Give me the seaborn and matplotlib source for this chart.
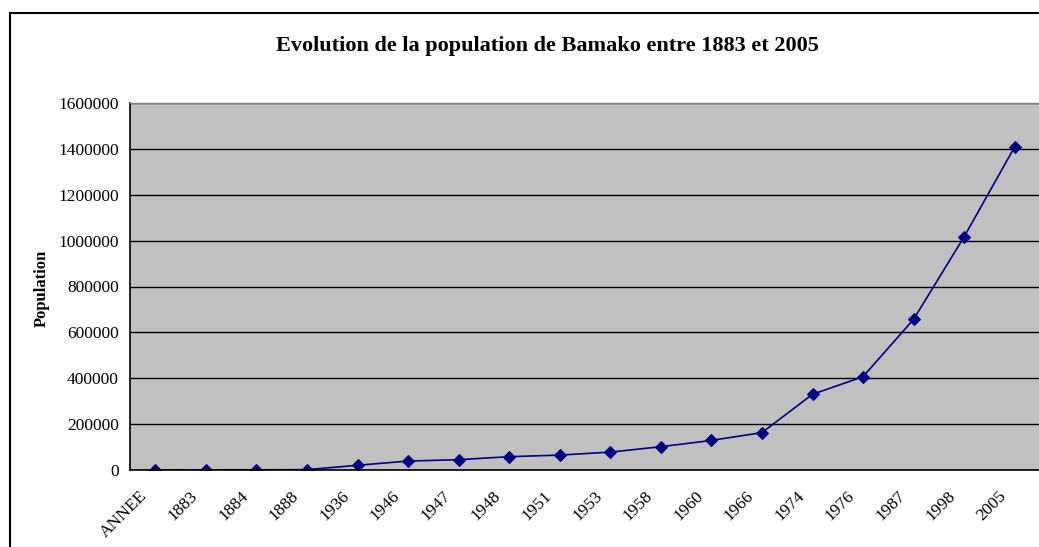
"""
Evolution de la population de Bamako entre 1883 et 2005
"""
import numpy as np
import pandas as pd
import matplotlib
matplotlib.use("Agg")
import matplotlib.pyplot as plt
import matplotlib.patches as mpatches
import matplotlib.transforms as mtransforms
import seaborn as sns

# ─ Data ─────────────────────────────────────────────────────────────────── #
years = ["ANNEE", "1883", "1884", "1888", "1936", "1946", "1947", "1948", "1951",
         "1953", "1958", "1960", "1966", "1974", "1976", "1987", "1998", "2005"]
population = [0, 800, 800, 1500, 20500, 39000, 45000, 58000, 65000,
              78000, 101500, 129000, 163000, 330000, 407000, 657000, 1017000, 1409000]
y_ticks = [0, 200000, 400000, 600000, 800000, 1000000, 1200000, 1400000, 1600000]

NAVY = "#000080"
GRAY = "#C0C0C0"

# ─ Set up ───────────────────────────────────────────────────────────────── #
sns.set_style("white")
plt.rcParams.update({
    "font.family": ["Liberation Serif", "DejaVu Serif"],
    "text.color": "black",
    "xtick.color": "black",
    "ytick.color": "black",
    "axes.labelcolor": "black",
})

W, H = 1039, 547
fig = plt.figure(figsize=(W / 100, H / 100), dpi=100)
ax = fig.add_axes([130 / W, (H - 470) / H, 910 / W, 367 / H])

df = pd.DataFrame({"year": years, "pop": population})
df["pos"] = np.arange(len(df))
sns.lineplot(data=df, x="pos", y="pop", ax=ax, color=NAVY, linewidth=1.2,
             marker="D", markersize=6, markeredgecolor=NAVY, markerfacecolor=NAVY)

ax.set_facecolor(GRAY)
ax.set_xlim(-0.5, len(years) - 0.5)
ax.set_ylim(0, 1600000)
ax.set_yticks(y_ticks)
ax.set_yticklabels([str(v) for v in y_ticks], fontsize=12.5)
ax.yaxis.grid(True, color="black", linewidth=1.0)
ax.set_axisbelow(True)

# category boundaries carry the tick marks, labels sit at category centres
ax.set_xticks(np.arange(len(years) + 1) - 0.5)
ax.set_xticklabels([])
ax.set_xticks(np.arange(len(years)), minor=True)
ax.set_xticklabels(years, minor=True, rotation=45, ha="right", va="top", fontsize=12.5)
ax.tick_params(axis="x", which="major", length=5, width=1, color="black", direction="out")
ax.tick_params(axis="x", which="minor", length=0, pad=13)
ax.tick_params(axis="y", length=5, width=1, color="black", direction="out", pad=3)
offset = mtransforms.ScaledTranslation(-5 / 100, 0, fig.dpi_scale_trans)
for lbl in ax.get_xticklabels(minor=True):
    lbl.set_transform(lbl.get_transform() + offset)

for side in ["left", "bottom"]:
    ax.spines[side].set_color("black")
    ax.spines[side].set_linewidth(1.2)
ax.spines["top"].set_color("#808080")
ax.spines["top"].set_linewidth(1.0)
ax.spines["right"].set_visible(False)

ax.set_xlabel("")
ax.set_ylabel("")
fig.text(42 / W, 1 - 288 / H, "Population", rotation=90, ha="center", va="center",
         fontsize=12, fontweight="bold")

fig.text(547 / W, 1 - 46 / H, "Evolution de la population de Bamako entre 1883 et 2005",
         ha="center", va="center", fontsize=16, fontweight="bold")

# chart frame
fig.patches.append(mpatches.Rectangle((10 / W, -0.1), 1.2, 1.1 - 13 / H,
                                      transform=fig.transFigure, fill=False,
                                      edgecolor="black", linewidth=1.5))

fig.savefig("out.png", dpi=100)
plt.close(fig)
